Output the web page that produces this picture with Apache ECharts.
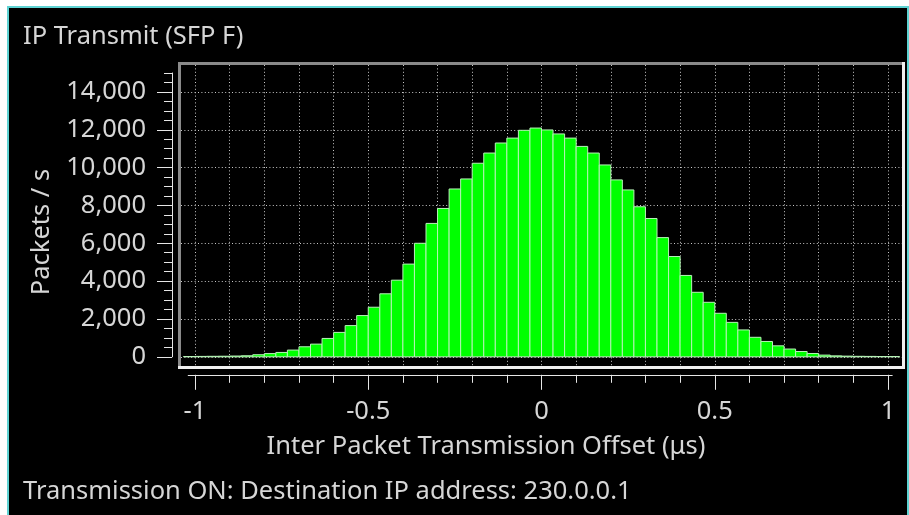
<!DOCTYPE html>
<html>
<head>
<meta charset="utf-8">
<script src="https://cdn.jsdelivr.net/npm/echarts@6/dist/echarts.min.js"></script>
<style>
  html, body { margin: 0; padding: 0; background: #ffffff; width: 909px; height: 515px; overflow: hidden; }
  #panel { position: absolute; left: 7px; top: 6px; width: 902px; height: 520px; box-sizing: border-box;
           background: #000000; border: 2px solid #5fd3d3; }
  #chart { position: absolute; left: 0; top: 0; width: 909px; height: 515px; }
</style>
</head>
<body>
<div id="panel"></div>
<div id="chart"></div>
<script>
// ---- texts ----
const chartTitle = 'IP Transmit (SFP F)';
const yAxisTitle = 'Packets / s';
const xAxisTitle = 'Inter Packet Transmission Offset (μs)';
const statusLine = 'Transmission ON: Destination IP address: 230.0.0.1';

// ---- histogram: bins of 1/30 µs starting at -31/30 µs ----
const histStart = -31 / 30;
const binWidth = 1 / 30;
const binCounts = [
  15, 20, 25, 30, 40, 55, 110, 170, 230, 355,
  530, 670, 970, 1290, 1650, 2180, 2620, 3330, 4050, 4900,
  6000, 7050, 7840, 8870, 9400, 10230, 10770, 11300, 11560, 11970,
  12090, 11990, 11780, 11560, 11120, 10770, 10140, 9350, 8820, 7930,
  7310, 6300, 5300, 4300, 3410, 2880, 2300, 1820, 1420, 1030,
  810, 580, 410, 280, 175, 90, 50, 35, 25, 20,
  15, 15
];

// ---- axes ----
const xRange = [-1, 1];
const xMajorStep = 0.5;
const xMinorSplit = 5;
const xLineRange = [-1.0196, 1.0121];
const yRange = [0, 15000];
const yTickValues = [0, 2000, 4000, 6000, 8000, 10000, 12000, 14000];
const yMinorStep = 500;

// ---- layout (pixels) ----
const AX = { left: 195, right: 888, top: 73, bottom: 356.8 };     // where the scale ends sit
const FR = { left: 181, right: 902, top: 65, bottom: 366 };        // inside of the plot frame
const TXT = '#d6d6d6';
const FONT = "'Noto Sans', 'Open Sans', sans-serif";
const FS = 25.5;

// the frame shows the same scale as the outside axes, just over a wider box
const xPerPx = (xRange[1] - xRange[0]) / (AX.right - AX.left);
const yPerPx = (yRange[1] - yRange[0]) / (AX.bottom - AX.top);
const frameX = [xRange[0] - (AX.left - FR.left) * xPerPx, xRange[1] + (FR.right - AX.right) * xPerPx];
const frameY = [yRange[0] - (FR.bottom - AX.bottom) * yPerPx, yRange[0] + (AX.bottom - FR.top) * yPerPx];
const lineLeft = AX.left + (xLineRange[0] - xRange[0]) / xPerPx;
const lineRight = AX.right + (xLineRange[1] - xRange[1]) / xPerPx;

const fmtThousands = v => Number(v).toLocaleString('en-US');

const hidden = { show: false };
const noLine = { show: false, onZero: false };
const tickStyle = { color: '#e6e6e6', width: 1 };
const gridStyle = { color: '#c8c8c8', width: 1, type: [1, 2.4] };

const chart = echarts.init(document.getElementById('chart'), null, { renderer: 'canvas' });

const option = {
  animation: false,
  backgroundColor: 'transparent',
  grid: [
    { // plot frame
      left: FR.left, top: FR.top, width: FR.right - FR.left, height: FR.bottom - FR.top,
      outerBoundsMode: 'none', containLabel: false, show: false
    },
    { // outside axes
      left: AX.left, top: AX.top, width: AX.right - AX.left, height: AX.bottom - AX.top,
      outerBoundsMode: 'none', containLabel: false, show: false
    },
    { // full length of the x axis line
      left: lineLeft, top: AX.top, width: lineRight - lineLeft, height: AX.bottom - AX.top,
      outerBoundsMode: 'none', containLabel: false, show: false
    }
  ],
  xAxis: [
    {
      gridIndex: 0, type: 'value', min: frameX[0], max: frameX[1], splitNumber: 20,
      axisLine: noLine, axisTick: hidden, axisLabel: hidden,
      splitLine: { show: true, showMinLine: false, showMaxLine: false, lineStyle: gridStyle }
    },
    {
      gridIndex: 1, type: 'value', min: xRange[0], max: xRange[1], interval: xMajorStep,
      position: 'bottom', offset: 18,
      axisLine: noLine,
      axisTick: { show: true, inside: false, length: 15, lineStyle: tickStyle },
      minorTick: { show: true, splitNumber: xMinorSplit, length: 8, lineStyle: tickStyle },
      axisLabel: { show: true, margin: 24, color: TXT, fontFamily: FONT, fontSize: FS },
      splitLine: hidden, minorSplitLine: hidden
    },
    {
      gridIndex: 2, type: 'value', min: xLineRange[0], max: xLineRange[1],
      position: 'bottom', offset: 18,
      axisLine: { show: true, onZero: false, lineStyle: tickStyle },
      axisTick: hidden, axisLabel: hidden, splitLine: hidden
    }
  ],
  yAxis: [
    {
      gridIndex: 0, type: 'value', min: frameY[0], max: frameY[1], splitNumber: 8,
      axisLine: noLine, axisTick: hidden, axisLabel: hidden,
      splitLine: { show: true, showMinLine: false, showMaxLine: false, lineStyle: gridStyle }
    },
    { // major ticks and labels
      gridIndex: 1, type: 'value', min: yRange[0], max: yRange[1],
      position: 'left', offset: AX.left - 172,
      axisLine: { show: true, onZero: false, lineStyle: tickStyle },
      axisTick: { show: true, inside: false, length: 15, customValues: yTickValues, lineStyle: tickStyle },
      axisLabel: { show: true, margin: 26, customValues: yTickValues, formatter: fmtThousands,
                   color: TXT, fontFamily: FONT, fontSize: FS },
      splitLine: hidden
    },
    { // minor ticks every 500
      gridIndex: 1, type: 'value', min: yRange[0], max: yRange[1], interval: yMinorStep,
      position: 'left', offset: AX.left - 172,
      axisLine: noLine,
      axisTick: { show: true, inside: false, length: 8, lineStyle: tickStyle },
      axisLabel: hidden, splitLine: hidden
    },
    { // companion axis for the x axis line grid
      gridIndex: 2, type: 'value', min: yRange[0], max: yRange[1],
      axisLine: noLine, axisTick: hidden, axisLabel: hidden, splitLine: hidden
    }
  ],
  graphic: { elements: [
    // frame: dark on top/left, light on bottom/right
    { type: 'rect', z: 50, shape: { x: FR.left - 3, y: FR.top - 3, width: FR.right - FR.left + 3, height: 3 }, style: { fill: '#8a8a8a' } },
    { type: 'rect', z: 50, shape: { x: FR.left - 3, y: FR.top - 3, width: 3, height: FR.bottom - FR.top + 3 }, style: { fill: '#8a8a8a' } },
    { type: 'rect', z: 50, shape: { x: FR.left - 3, y: FR.bottom, width: FR.right - FR.left + 6, height: 3 }, style: { fill: '#f0f0f0' } },
    { type: 'rect', z: 50, shape: { x: FR.right, y: FR.top - 3, width: 3, height: FR.bottom - FR.top + 6 }, style: { fill: '#f0f0f0' } },
    // texts
    { type: 'text', x: 23, y: 37, z: 60,
      style: { text: chartTitle, fill: TXT, fontFamily: FONT, fontSize: FS, align: 'left', verticalAlign: 'middle' } },
    { type: 'text', x: 42, y: 232, rotation: Math.PI / 2, z: 60,
      style: { text: yAxisTitle, fill: TXT, fontFamily: FONT, fontSize: FS, align: 'center', verticalAlign: 'middle' } },
    { type: 'text', x: 486, y: 447, z: 60,
      style: { text: xAxisTitle, fill: TXT, fontFamily: FONT, fontSize: FS, align: 'center', verticalAlign: 'middle' } },
    { type: 'text', x: 23, y: 492, z: 60,
      style: { text: statusLine, fill: TXT, fontFamily: FONT, fontSize: FS, align: 'left', verticalAlign: 'middle' } }
  ] },
  series: [{
    type: 'custom',
    name: 'Packets / s',
    xAxisIndex: 0, yAxisIndex: 0,
    clip: true,
    encode: { x: [0, 1], y: 2 },
    data: binCounts.map((c, i) => [histStart + i * binWidth, histStart + (i + 1) * binWidth, c]),
    renderItem: (params, api) => {
      const base = api.coord([api.value(0), 0]);
      const top = api.coord([api.value(1), api.value(2)]);
      return {
        type: 'rect',
        shape: { x: base[0], y: top[1], width: top[0] - base[0], height: base[1] - top[1] },
        style: { fill: '#00ff00', stroke: '#b8f3b8', lineWidth: 1 }
      };
    }
  }]
};

chart.setOption(option);
</script>
</body>
</html>
